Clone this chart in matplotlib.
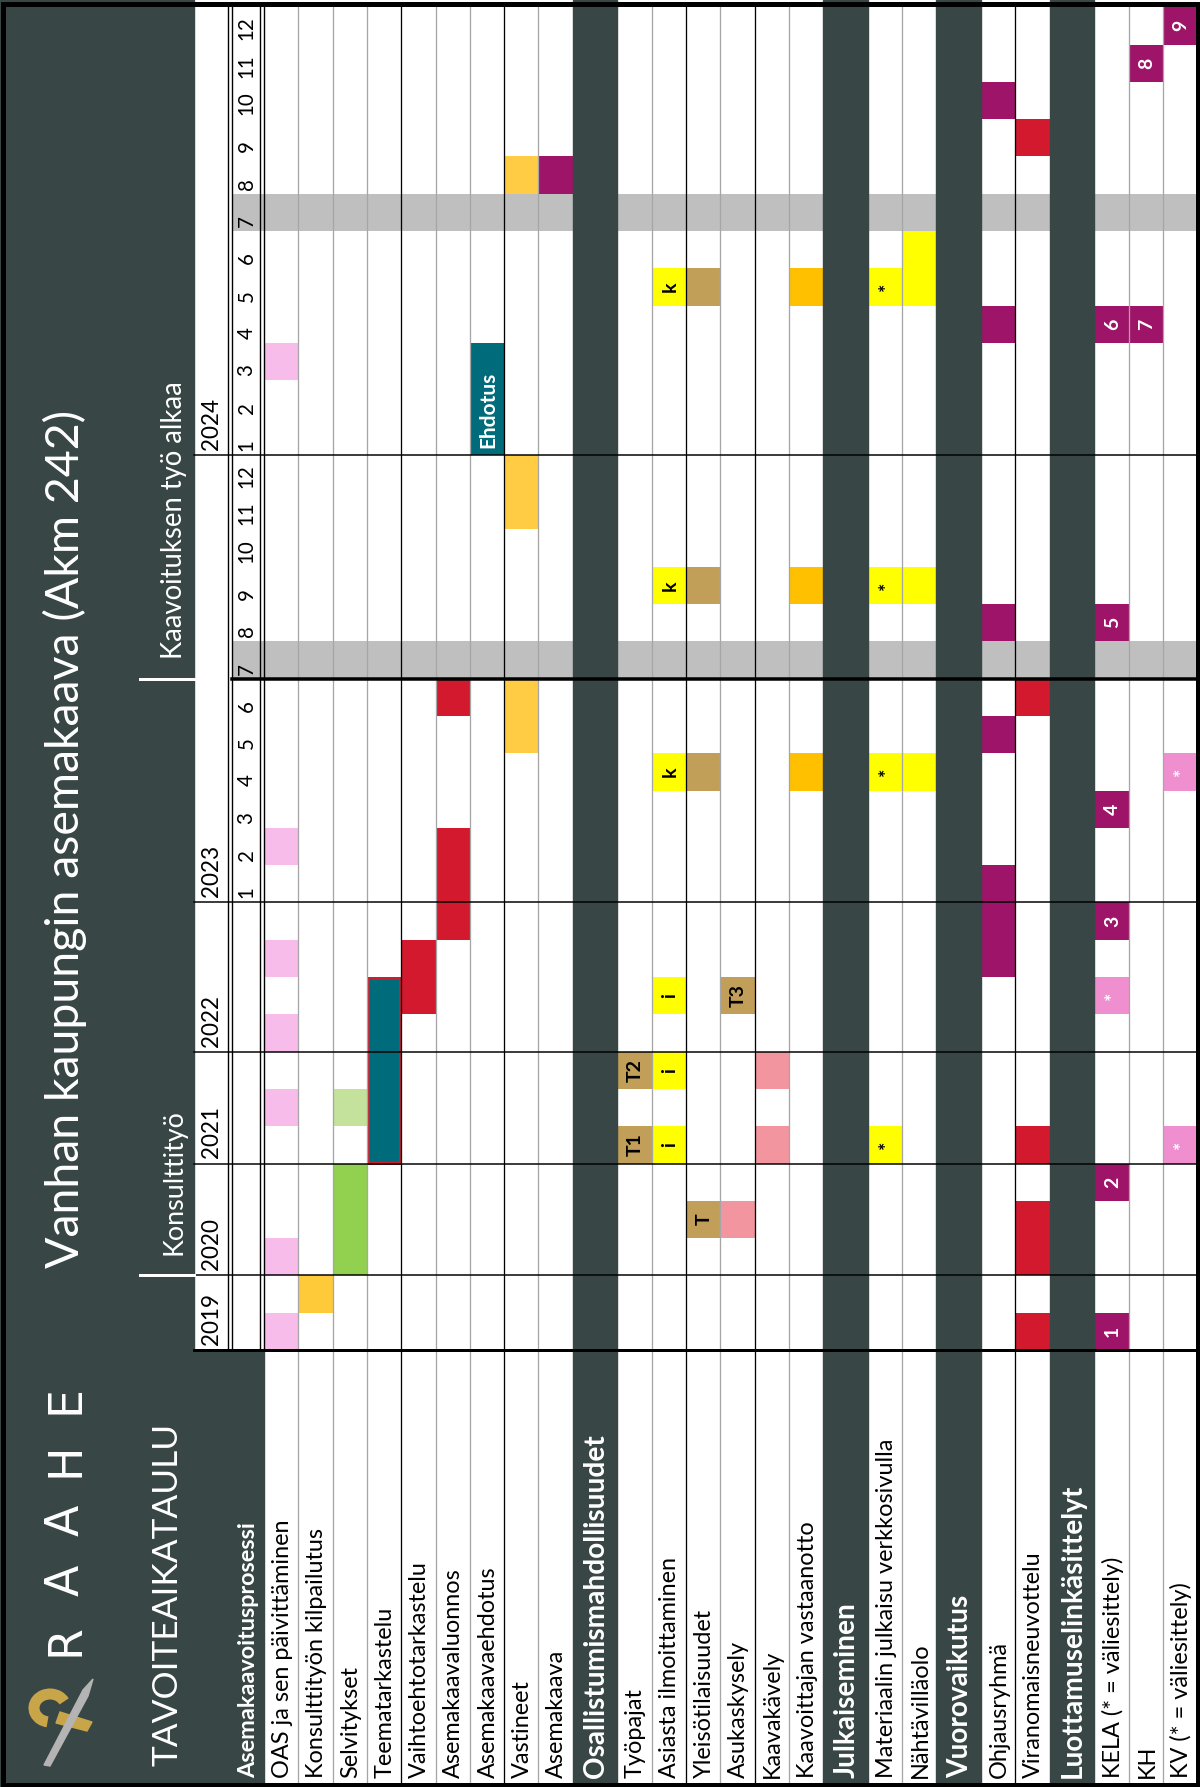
import matplotlib
matplotlib.use("Agg")
import matplotlib.pyplot as plt
from matplotlib.patches import Rectangle, Polygon, Arc
from matplotlib.font_manager import FontProperties
from matplotlib.textpath import TextPath

# ---------------- data ----------------
YEARS = [2019, 2020, 2021, 2022, 2023, 2024]
PERIODS_PER_YEAR = [2, 3, 3, 4, 12, 12]
MONTHLY_YEARS = [2023, 2024]
HOLIDAY_MONTH = 7

SECTION_TITLES = ["Asemakaavoitusprosessi", "Osallistumismahdollisuudet",
                  "Julkaiseminen", "Vuorovaikutus", "Luottamuselinkäsittelyt"]
SECTION_ROWS = [
    ["OAS ja sen päivittäminen", "Konsulttityön kilpailutus", "Selvitykset",
     "Teematarkastelu", "Vaihtoehtotarkastelu", "Asemakaavaluonnos",
     "Asemakaavaehdotus", "Vastineet", "Asemakaava"],
    ["Työpajat", "Asiasta ilmoittaminen", "Yleisötilaisuudet", "Asukaskysely",
     "Kaavakävely", "Kaavoittajan vastaanotto"],
    ["Materiaalin julkaisu verkkosivulla", "Nähtävilläolo"],
    ["Ohjausryhmä", "Viranomaisneuvottelu"],
    ["KELA (* = väliesittely)", "KH", "KV (* = väliesittely)"],
]

# (row, year, period in year, number of periods, kind, label)
BARS = [
    ("OAS ja sen päivittäminen", 2019, 1, 1, "oas", ""),
    ("OAS ja sen päivittäminen", 2020, 1, 1, "oas", ""),
    ("OAS ja sen päivittäminen", 2021, 2, 1, "oas", ""),
    ("OAS ja sen päivittäminen", 2022, 1, 1, "oas", ""),
    ("OAS ja sen päivittäminen", 2022, 3, 1, "oas", ""),
    ("OAS ja sen päivittäminen", 2023, 2, 1, "oas", ""),
    ("OAS ja sen päivittäminen", 2024, 3, 1, "oas", ""),
    ("Konsulttityön kilpailutus", 2019, 2, 1, "kilp", ""),
    ("Selvitykset", 2020, 1, 3, "selv", ""),
    ("Selvitykset", 2021, 2, 1, "selv2", ""),
    ("Teematarkastelu", 2021, 1, 5, "teema", ""),
    ("Vaihtoehtotarkastelu", 2022, 2, 2, "red", ""),
    ("Asemakaavaluonnos", 2022, 4, 3, "red", ""),
    ("Asemakaavaluonnos", 2023, 6, 1, "red", ""),
    ("Asemakaavaehdotus", 2024, 1, 3, "teal", "Ehdotus"),
    ("Vastineet", 2023, 5, 2, "vast", ""),
    ("Vastineet", 2023, 11, 2, "vast", ""),
    ("Vastineet", 2024, 8, 1, "vast", ""),
    ("Asemakaava", 2024, 8, 1, "purple", ""),
    ("Työpajat", 2021, 1, 1, "brown", "T1"),
    ("Työpajat", 2021, 3, 1, "brown", "T2"),
    ("Asiasta ilmoittaminen", 2021, 1, 1, "yellow", "i"),
    ("Asiasta ilmoittaminen", 2021, 3, 1, "yellow", "i"),
    ("Asiasta ilmoittaminen", 2022, 2, 1, "yellow", "i"),
    ("Asiasta ilmoittaminen", 2023, 4, 1, "yellow", "k"),
    ("Asiasta ilmoittaminen", 2023, 9, 1, "yellow", "k"),
    ("Asiasta ilmoittaminen", 2024, 5, 1, "yellow", "k"),
    ("Yleisötilaisuudet", 2020, 2, 1, "brown", "T"),
    ("Yleisötilaisuudet", 2023, 4, 1, "brown", ""),
    ("Yleisötilaisuudet", 2023, 9, 1, "brown", ""),
    ("Yleisötilaisuudet", 2024, 5, 1, "brown", ""),
    ("Asukaskysely", 2020, 2, 1, "salmon", ""),
    ("Asukaskysely", 2022, 2, 1, "brown", "T3"),
    ("Kaavakävely", 2021, 1, 1, "salmon", ""),
    ("Kaavakävely", 2021, 3, 1, "salmon", ""),
    ("Kaavoittajan vastaanotto", 2023, 4, 1, "orange", ""),
    ("Kaavoittajan vastaanotto", 2023, 9, 1, "orange", ""),
    ("Kaavoittajan vastaanotto", 2024, 5, 1, "orange", ""),
    ("Materiaalin julkaisu verkkosivulla", 2021, 1, 1, "yellow", "*"),
    ("Materiaalin julkaisu verkkosivulla", 2023, 4, 1, "yellow", "*"),
    ("Materiaalin julkaisu verkkosivulla", 2023, 9, 1, "yellow", "*"),
    ("Materiaalin julkaisu verkkosivulla", 2024, 5, 1, "yellow", "*"),
    ("Nähtävilläolo", 2023, 4, 1, "yellow", ""),
    ("Nähtävilläolo", 2023, 9, 1, "yellow", ""),
    ("Nähtävilläolo", 2024, 5, 2, "yellow", ""),
    ("Ohjausryhmä", 2022, 3, 3, "purple", ""),
    ("Ohjausryhmä", 2023, 5, 1, "purple", ""),
    ("Ohjausryhmä", 2023, 8, 1, "purple", ""),
    ("Ohjausryhmä", 2024, 4, 1, "purple", ""),
    ("Ohjausryhmä", 2024, 10, 1, "purple", ""),
    ("Viranomaisneuvottelu", 2019, 1, 1, "red", ""),
    ("Viranomaisneuvottelu", 2020, 1, 2, "red", ""),
    ("Viranomaisneuvottelu", 2021, 1, 1, "red", ""),
    ("Viranomaisneuvottelu", 2023, 6, 1, "red", ""),
    ("Viranomaisneuvottelu", 2024, 9, 1, "red", ""),
    ("KELA (* = väliesittely)", 2019, 1, 1, "purple", "1"),
    ("KELA (* = väliesittely)", 2020, 3, 1, "purple", "2"),
    ("KELA (* = väliesittely)", 2022, 2, 1, "pink", "*"),
    ("KELA (* = väliesittely)", 2022, 4, 1, "purple", "3"),
    ("KELA (* = väliesittely)", 2023, 3, 1, "purple", "4"),
    ("KELA (* = väliesittely)", 2023, 8, 1, "purple", "5"),
    ("KELA (* = väliesittely)", 2024, 4, 1, "purple", "6"),
    ("KH", 2024, 4, 1, "purple", "7"),
    ("KH", 2024, 11, 1, "purple", "8"),
    ("KV (* = väliesittely)", 2021, 1, 1, "pink", "*"),
    ("KV (* = väliesittely)", 2023, 4, 1, "pink", "*"),
    ("KV (* = väliesittely)", 2024, 12, 1, "purple", "9"),
]

PHASES = [("Konsulttityö", 2020, 1), ("Kaavoituksen työ alkaa", 2023, 7)]
TITLE = "Vanhan kaupungin asemakaava (Akm 242)"
SUBTITLE = "TAVOITEAIKATAULU"
LOGO = "RAAHE"

# ---------------- style ----------------
DARK = "#384745"
GRID_GREY = "#a6a6a6"
BAND_GREY = "#bfbfbf"
GOLD = "#c9a54a"
FILL = {"oas": "#f8bcea", "kilp": "#ffca3a", "selv": "#92d050", "selv2": "#c4e29c",
        "teema": "#006b7a", "teal": "#006b7a", "red": "#d2192e", "vast": "#ffcc44",
        "purple": "#9d1468", "brown": "#c29f58", "yellow": "#ffff00",
        "salmon": "#f2959e", "orange": "#ffc000", "pink": "#ef8fcf"}
WHITE_TEXT = {"teal", "purple", "pink"}
BLACK_AFTER = {"Teematarkastelu", "Asemakaavaehdotus", "Asiasta ilmoittaminen",
               "Asukaskysely", "Ohjausryhmä"}
FONT = ["Lato", "DejaVu Sans"]

W, H = 1200, 1787
PX = 72 / 100            # points per pixel at dpi 100
Y0, UNIT = 1350, 37.3    # bottom of the time grid, height of one period
X0, ROW_W, HEAD_W = 264, 34.3, 44.7
YEAR_X, MONTH_X = (194, 227), (232, 259)
LEFT_W = 194
LABEL_Y = 1778


def fit(text, target, weight="normal", family=FONT):
    fp = FontProperties(family=family, weight=weight)
    w = TextPath((0, 0), text, size=100, prop=fp).get_extents().width
    return target * 72 / w


def vtext(x, y, s, **kw):
    kw.setdefault("family", FONT)
    kw.setdefault("zorder", 4)
    kw.setdefault("ha", "left")
    kw.setdefault("va", "center")
    return ax.text(x, y, s, rotation=90, rotation_mode="anchor", **kw)


offsets = {}
acc = 0
for yr, n in zip(YEARS, PERIODS_PER_YEAR):
    offsets[yr] = acc
    acc += n
N_UNITS = acc
Y_TOP = Y0 - N_UNITS * UNIT


def unit(year, period):
    return offsets[year] + period - 1


def yb(c):  # y pixel of the lower edge of unit c
    return Y0 - c * UNIT


cols = []
x = X0
for i, (head, rows) in enumerate(zip(SECTION_TITLES, SECTION_ROWS)):
    if i > 0:
        cols.append(("head", head, x, HEAD_W))
        x += HEAD_W
    for r in rows:
        cols.append(("row", r, x, ROW_W))
        x += ROW_W
X_END = x
row_pos = {name: (x0, w) for kind, name, x0, w in cols if kind == "row"}

fig = plt.figure(figsize=(W / 100, H / 100), dpi=100)
ax = fig.add_axes([0, 0, 1, 1])
ax.set_xlim(0, W)
ax.set_ylim(H, 0)
ax.axis("off")

ax.add_patch(Rectangle((0, 0), W, H, color="white", zorder=0))
ax.add_patch(Rectangle((0, 0), LEFT_W, H, color=DARK, zorder=1))
ax.add_patch(Rectangle((0, Y0), X0, H - Y0, color=DARK, zorder=1))

# holiday month bands
for yr in MONTHLY_YEARS:
    c = unit(yr, HOLIDAY_MONTH)
    ax.add_patch(Rectangle((MONTH_X[0], yb(c + 1)), X_END - MONTH_X[0], UNIT,
                           color=BAND_GREY, lw=0, zorder=1.5))

# bars
for row, yr, p, n, kind, label in BARS:
    x0, w = row_pos[row]
    c = unit(yr, p)
    top = yb(c + n)
    if kind == "teema":
        ax.add_patch(Rectangle((x0 + 1.5, top + 1), w - 3, n * UNIT - 2,
                               facecolor=FILL[kind], edgecolor="#c8202e",
                               lw=3 * PX, zorder=2.5))
    else:
        ax.bar(x0 + w / 2, n * UNIT, width=w, bottom=top, color=FILL[kind],
               lw=0, zorder=2)
    if label:
        tc = "white" if kind in WHITE_TEXT else "black"
        if len(label) > 2:
            vtext(x0 + w / 2 + 1, yb(c) - 7, label, color=tc, fontsize=15,
                  fontweight="bold")
        else:
            vtext(x0 + w / 2 + 1, yb(c) - UNIT / 2, label, ha="center", color=tc,
                  fontsize=14, fontweight="bold")

# vertical separators between rows
for (k1, n1, x1, w1), (k2, n2, x2, w2) in zip(cols[:-1], cols[1:]):
    if k1 == "row" and k2 == "row":
        col = "black" if n1 in BLACK_AFTER else GRID_GREY
        ax.plot([x2, x2], [Y_TOP, H], color=col, lw=1.3 * PX, zorder=3)
ax.plot([X_END, X_END], [Y_TOP, H], color="black", lw=1.5 * PX, zorder=3)

# section header columns
for kind, name, x0, w in cols:
    if kind == "head":
        ax.add_patch(Rectangle((x0, 0), w, H, color=DARK, zorder=3.2))

# horizontal year lines
for yr in YEARS:
    c = offsets[yr]
    ax.plot([YEAR_X[0], X_END], [yb(c), yb(c)], color="black", lw=1.5 * PX, zorder=3.5)
ax.plot([YEAR_X[0], X_END], [Y0, Y0], color="black", lw=3 * PX, zorder=3.5)
c7 = unit(MONTHLY_YEARS[0], HOLIDAY_MONTH)
ax.plot([MONTH_X[0], X_END], [yb(c7), yb(c7)], color="black", lw=3.5 * PX, zorder=3.5)

# double lines around the month column
for xx in (YEAR_X[1] + 0.5, MONTH_X[0] - 0.5, MONTH_X[1] + 0.5, X0 - 0.5):
    ax.plot([xx, xx], [Y_TOP, Y0], color="black", lw=1.4 * PX, zorder=3.5)

# year and month labels
fs_year = fit("2023", 50)
for yr in YEARS:
    vtext((YEAR_X[0] + YEAR_X[1]) / 2 + 1, yb(offsets[yr]) - 5, str(yr),
          fontsize=fs_year)
fs_month = fit("12", 21)
for yr in MONTHLY_YEARS:
    for m in range(1, 13):
        vtext((MONTH_X[0] + MONTH_X[1]) / 2 + 1, yb(unit(yr, m)) - 4, str(m),
              fontsize=fs_month)

# row labels and section titles
fs_row = fit("OAS ja sen päivittäminen", 257)
fs_head = fit("Osallistumismahdollisuudet", 342, "bold")
for kind, name, x0, w in cols:
    if kind == "row":
        vtext(x0 + w / 2 + 1, LABEL_Y, name, fontsize=fs_row)
    else:
        vtext(x0 + w / 2 + 1, LABEL_Y, name, fontsize=fs_head, fontweight="bold",
              color="white")
vtext((MONTH_X[0] + X0) / 2 + 1, LABEL_Y, SECTION_TITLES[0],
      fontsize=fit(SECTION_TITLES[0], 255, "bold"), fontweight="bold", color="white")

# header: title, subtitle, phase markers, logo
vtext(65, 1268, TITLE, fontsize=fit(TITLE, 858), color="white")
vtext(168, LABEL_Y - 12, SUBTITLE, fontsize=fit(SUBTITLE, 340), color="white")
phase_len = {"Konsulttityö": 142, "Kaavoituksen työ alkaa": 274}
for name, yr, p in PHASES:
    yy = yb(unit(yr, p))
    ax.plot([140, LEFT_W], [yy, yy], color="white", lw=3 * PX, zorder=4)
    vtext(174, yy - 20, name, fontsize=fit(name, phase_len[name]), color="white")

for i, ch in enumerate(LOGO):
    vtext(66, 1640 - i * 60, ch, ha="center", fontsize=33, color="white",
          family=["DejaVu Sans"])

# emblem
ax.add_patch(Arc((50, 1708), 32, 28, theta1=100, theta2=335, lw=11 * PX,
                 color=GOLD, zorder=4))
ax.add_patch(Polygon([(60, 1712), (92, 1722), (87, 1731), (56, 1723)],
                     color=GOLD, zorder=4))
ax.add_patch(Polygon([(44, 1765), (83, 1690), (93, 1679), (88, 1696), (50, 1766)],
                     color="#b4b4b4", zorder=4.5))

# outer frame
ax.add_patch(Rectangle((2.5, 3.5), W - 5, H - 6, fill=False, edgecolor="black",
                       lw=5 * PX, zorder=6))

fig.savefig("out.png", dpi=100)
